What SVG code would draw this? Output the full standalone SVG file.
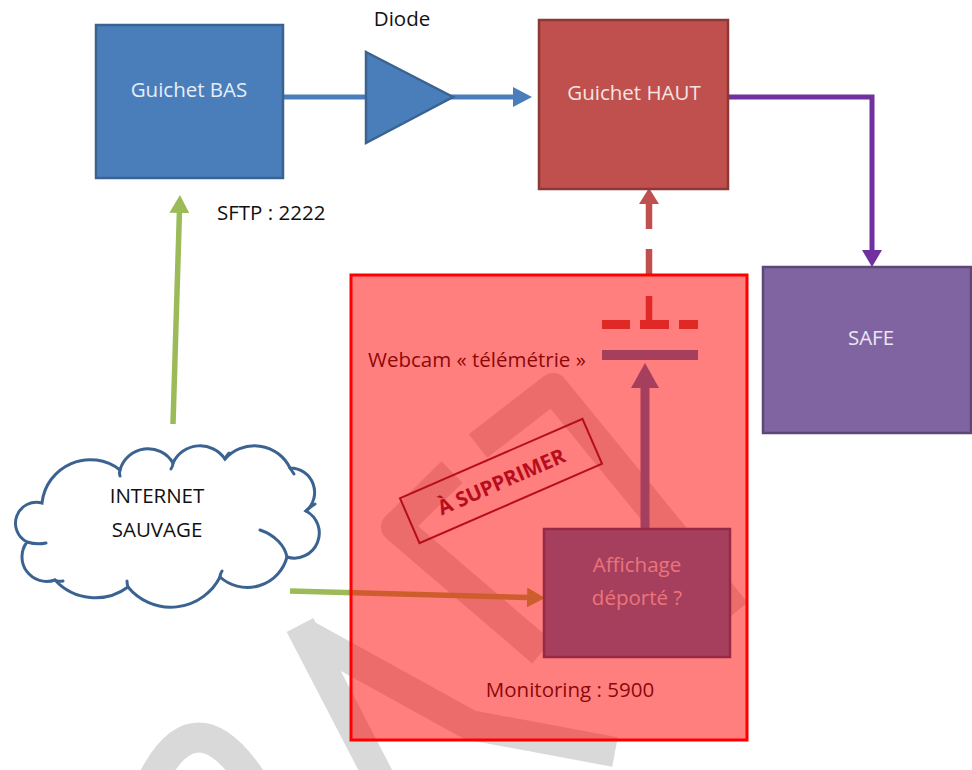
<svg xmlns="http://www.w3.org/2000/svg" width="972" height="770" viewBox="0 0 972 770">
<defs>
<style>
text{font-family:"Open Sans","Liberation Sans",sans-serif;font-size:20.5px}
.lbl{fill:#111111}
.wm{fill:none;stroke:#d9d9d9;stroke-width:30;stroke-linejoin:round;stroke-linecap:butt}
.cloud{stroke:#3b6391;stroke-width:3;stroke-linecap:round}
.conn{fill:none}
</style>
<marker id="ah-blue" markerUnits="userSpaceOnUse" markerWidth="19" markerHeight="20" viewBox="0 0 19 20" refX="0" refY="10" orient="auto"><path d="M0,0 L19,10 L0,20 Z" fill="#4a7ebb"/></marker>
<marker id="ah-purple" markerUnits="userSpaceOnUse" markerWidth="17" markerHeight="20" viewBox="0 0 17 20" refX="0" refY="10" orient="auto"><path d="M0,0 L17,10 L0,20 Z" fill="#7030a0"/></marker>
<marker id="ah-green" markerUnits="userSpaceOnUse" markerWidth="18" markerHeight="20" viewBox="0 0 18 20" refX="0" refY="10" orient="auto"><path d="M0,0 L18,10 L0,20 Z" fill="#9bbb59"/></marker>
<marker id="ah-webcam" markerUnits="userSpaceOnUse" markerWidth="25" markerHeight="28" viewBox="0 0 25 28" refX="0" refY="14" orient="auto"><path d="M0,0 L25,14 L0,28 Z" fill="#4a7ebb"/></marker>
<marker id="ah-red" markerUnits="userSpaceOnUse" markerWidth="16" markerHeight="20" viewBox="0 0 16 20" refX="0" refY="10" orient="auto"><path d="M0,0 L16,10 L0,20 Z" fill="#c0504d"/></marker>
</defs>
<rect width="972" height="770" fill="#ffffff"/>

<g id="watermark" class="wm">
<path d="M300,625 L383,785"/>
<path d="M305,634 L470,725 L615,752"/>
<path d="M150,785 Q195,690 255,785"/>
<path d="M452,472 L396,527 L542,652"/>
<path d="M478,446 L553,388 L736,612"/>
</g>

<g id="connectors" class="conn">
<path d="M283,97 L513,97" stroke="#4a7ebb" stroke-width="5" marker-end="url(#ah-blue)"/>
<path d="M728,97 H872 V250" stroke="#7030a0" stroke-width="5" marker-end="url(#ah-purple)"/>
<path d="M173,424 L179.4,213" stroke="#9bbb59" stroke-width="5.5" marker-end="url(#ah-green)"/>
<path d="M290,591 L527,597.5" stroke="#9bbb59" stroke-width="5.5" marker-end="url(#ah-green)"/>
<path d="M645,528 L645,388" stroke="#4a7ebb" stroke-width="9" marker-end="url(#ah-webcam)"/>
<path d="M649,323 L649,204" stroke="#c0504d" stroke-width="6.5" stroke-dasharray="27 20" marker-end="url(#ah-red)"/>
<text class="lbl" x="217" y="220">SFTP : 2222</text>
<text class="lbl" x="570" y="697" text-anchor="middle">Monitoring : 5900</text>
</g>

<g id="guichet-bas">
<rect x="96" y="25" width="187" height="153" fill="#4a7ebb" stroke="#3a6391" stroke-width="2.5"/>
<text x="189" y="97" text-anchor="middle" fill="#e6edf7">Guichet BAS</text>
</g>

<g id="diode">
<path d="M366,52 L453,97 L366,143 Z" fill="#4a7ebb" stroke="#3a6391" stroke-width="2.5" stroke-linejoin="miter"/>
<text class="lbl" x="402" y="26" text-anchor="middle">Diode</text>
</g>

<g id="guichet-haut">
<rect x="539" y="20" width="189" height="169" fill="#c0504d" stroke="#8c3836" stroke-width="2.5"/>
<text x="634" y="100" text-anchor="middle" fill="#f5e3e2">Guichet HAUT</text>
</g>

<g id="safe">
<rect x="763" y="267" width="208" height="166" fill="#8064a2" stroke="#5c4776" stroke-width="2.5"/>
<text x="871" y="345" text-anchor="middle" fill="#ece6f3">SAFE</text>
</g>

<g id="internet-sauvage">
<path class="cloud" fill="#ffffff" d="M42,503 A48.4,48.4 0 0 1 120,470 A29,29 0 0 1 173,463 A30,30 0 0 1 225,459 A39.5,39.5 0 0 1 290,468 A24.4,24.4 0 0 1 306,511 A25,25 0 0 1 287,557 A41,41 0 0 1 220,577 A55.3,55.3 0 0 1 128,587 A54.7,54.7 0 0 1 55,580 A24.6,24.6 0 0 1 27,542 A21,21 0 0 1 42,503 Z"/>
<path class="cloud" fill="none" d="M27,542 Q37,545 46,543 M55,580 Q59,582 63,581 M128,587 Q127,584 127,581 M220,577 Q220,574 222,571 M306,511 Q310,507 315,504 M260,530 C275,535 285,546 287,557 M120,470 Q119,473 120,476 M173,463 Q173,466 171,469 M225,459 Q226,456 229,453 M290,468 Q292,471 294,474"/>
<text class="lbl" x="157" y="503" text-anchor="middle">INTERNET</text>
<text class="lbl" x="157" y="537" text-anchor="middle">SAUVAGE</text>
</g>

<g id="webcam">
<rect x="602" y="320" width="28" height="9" fill="#c0504d"/>
<rect x="640" y="320" width="29" height="9" fill="#c0504d"/>
<rect x="679" y="320" width="19" height="9" fill="#c0504d"/>
<rect x="602" y="350" width="96" height="10" fill="#4a7ebb"/>
<text class="lbl" x="368" y="367">Webcam « télémétrie »</text>
</g>

<g id="affichage-deporte">
<rect x="544" y="529" width="186" height="128" fill="#4a7ebb" stroke="#2f5288" stroke-width="2.5"/>
<text x="637" y="572" text-anchor="middle" fill="#dce6f2">Affichage</text>
<text x="637" y="605" text-anchor="middle" fill="#dce6f2">déporté ?</text>
</g>

<g id="zone-a-supprimer">
<rect x="351" y="275" width="396" height="465" fill="#ff0000" fill-opacity="0.5" stroke="#ff0000" stroke-width="3"/>
</g>

<g id="tampon" transform="translate(501,481) rotate(-23.5)">
<rect x="-99.5" y="-24.5" width="199" height="49" fill="none" stroke="#b80d1c" stroke-width="2"/>
<text x="0" y="8" text-anchor="middle" fill="#b80d1c" font-weight="700" font-size="23">À SUPPRIMER</text>
</g>
</svg>
